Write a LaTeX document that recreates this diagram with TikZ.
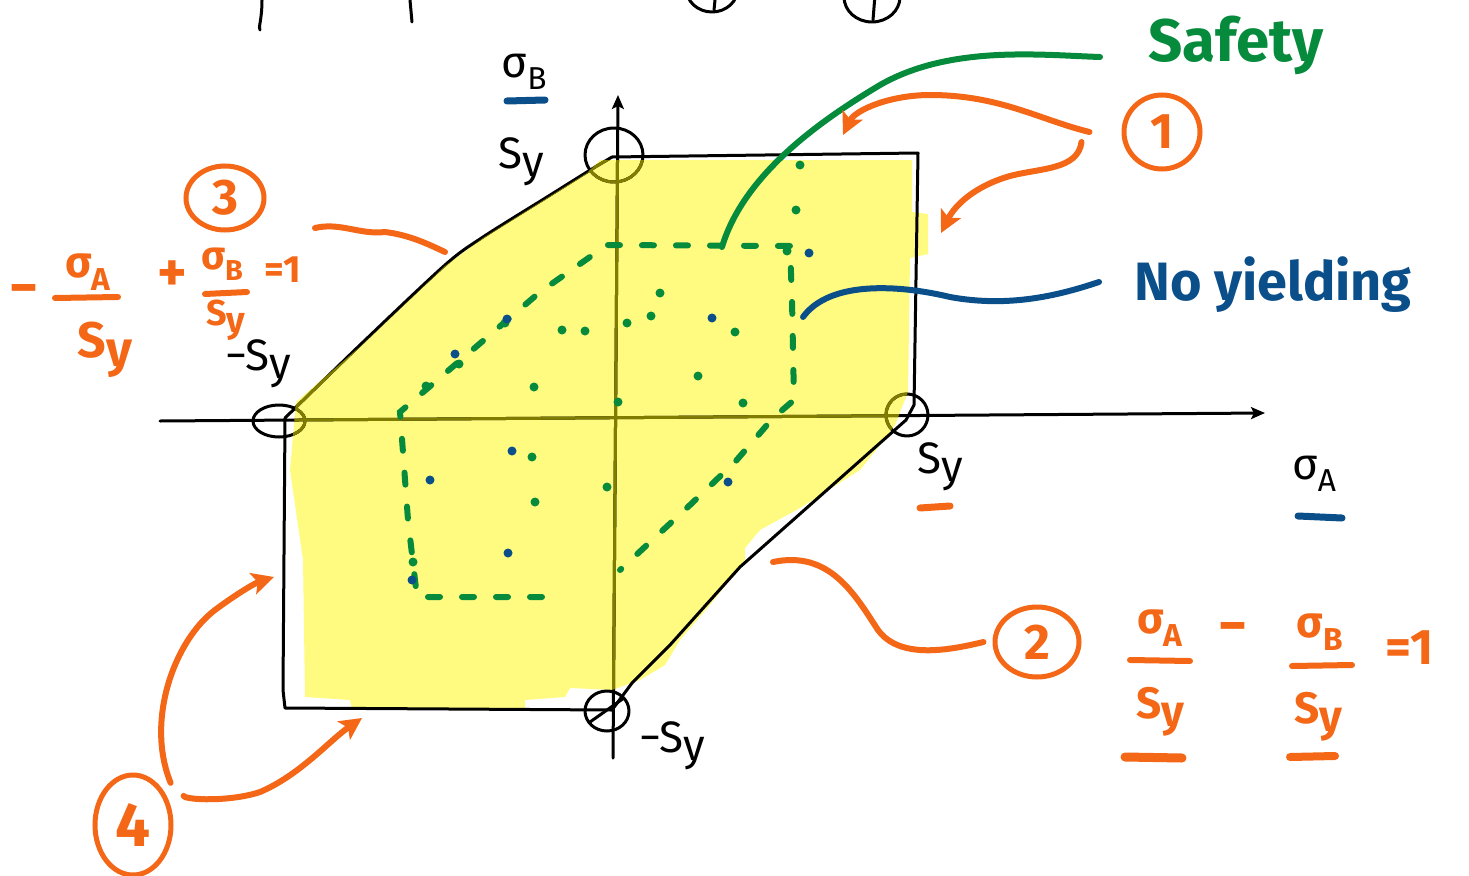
\documentclass[tikz,border=0pt]{standalone}
\usepackage{fontspec}
\setmainfont{Fira Sans}
\usetikzlibrary{arrows.meta,shapes.geometric}
\definecolor{hlyellow}{RGB}{255,251,128}
\definecolor{penorange}{RGB}{243,103,22}
\definecolor{pengreen}{RGB}{6,138,60}
\definecolor{penblue}{RGB}{10,78,138}
\definecolor{olivepen}{RGB}{128,124,0}
\newcommand\sgm[1]{σ\raisebox{-0.28em}{\scalebox{0.72}{#1}}}
\newcommand\syy{S\raisebox{-0.18em}{y}}
\begin{document}
\begin{tikzpicture}[x=1pt,y=-1pt,
 blk/.style={line width=3pt,line cap=round,line join=round},
 olv/.style={line width=3pt,draw=olivepen,line cap=round,line join=round},
 orng/.style={line width=6pt,draw=penorange,line cap=round,line join=round},
 orngarrow/.style={orng,-{Stealth[length=22pt,width=22pt,inset=5pt]}},
 axisarrow/.style={blk,-{Stealth[length=14pt,width=12pt,inset=3pt]}},
 gdash/.style={line width=6pt,draw=pengreen,line cap=round,dash pattern=on 12pt off 22pt},
 gcurve/.style={line width=6pt,draw=pengreen,line cap=round},
 bcurve/.style={line width=6pt,draw=penblue,line cap=round},
 lbl/.style={font=\fontsize{44}{44}\selectfont,inner sep=0pt},
 olbl/.style={font=\fontsize{44}{44}\selectfont\bfseries,inner sep=0pt,text=penorange},
 circ/.style={ellipse,draw=penorange,line width=5pt,text=penorange,font=\fontsize{50}{50}\selectfont\bfseries,inner sep=0pt},
]
\useasboundingbox (0,0) rectangle (1469,875);

% cut-off marks at the very top
\begin{scope}
\clip (0,0) rectangle (1469,875);
\draw[blk] (712,-12) ellipse [x radius=26pt, y radius=24pt];
\draw[blk] (872,-3) ellipse [x radius=28pt, y radius=25pt];
\draw[blk] (716,-10) -- (714,10);
\draw[blk] (875,-5) -- (873,20);
\draw[blk] (262,0) .. controls (262,20) and (258,28) .. (260,30);
\draw[blk] (410,0) -- (412,22);
\end{scope}

% yellow safe region
\fill[hlyellow] (600,160) -- (912,160) -- (912,212) -- (928,214) -- (928,254) -- (910,258)
 -- (908,392) -- (895,425) -- (880,445) -- (860,470) -- (800,508) -- (760,530) -- (745,548)
 -- (745,560) -- (710,605) -- (680,640) -- (665,665) -- (640,680) -- (612,690) -- (570,688)
 -- (565,697) -- (525,700) -- (525,708) -- (352,710) -- (350,700) -- (305,697) -- (303,560)
 -- (290,470) -- (296,402) -- (362,345) -- (445,266) -- (483,238) -- (547,198) -- (587,173) -- cycle;

% hexagon boundary
\draw[blk] plot[smooth] coordinates {(285,418) (360,345) (445,265) (483,237) (547,197) (587,172) (612,157)};
\draw[blk] (612,157) -- (918,153) -- (914,405) -- (906,420) -- (740,567) -- (670,645) -- (632,683) -- (612,710)
 -- (450,709) -- (285,708) -- (283,690) -- (285,418);

% axes
\coordinate (hstart) at (160,421);
\coordinate (hend) at (1265,413);
\coordinate (vstart) at (613,758);
\coordinate (vend) at (618,95);
\draw[axisarrow] (hstart) -- (hend);
\draw[axisarrow] (vstart) -- (vend);
% vertex circles
\draw[blk] (614,155) ellipse [x radius=29pt, y radius=27pt];
\draw[blk] (279,421) ellipse [x radius=26pt, y radius=16pt];
\draw[blk] (907,415) circle (21pt);
\draw[blk] (607,711) ellipse [x radius=22pt, y radius=20pt];
\draw[blk] (590,722) -- (624,698);

% olive where the highlighter covers the black ink
\begin{scope}
\clip (600,160) -- (912,160) -- (912,212) -- (928,214) -- (928,254) -- (910,258)
 -- (908,392) -- (895,425) -- (880,445) -- (860,470) -- (800,508) -- (760,530) -- (745,548)
 -- (745,560) -- (710,605) -- (680,640) -- (665,665) -- (640,680) -- (612,690) -- (570,688)
 -- (565,697) -- (525,700) -- (525,708) -- (352,710) -- (350,700) -- (305,697) -- (303,560)
 -- (290,470) -- (296,402) -- (362,345) -- (445,266) -- (483,238) -- (547,198) -- (587,173) -- cycle;
\draw[olv] (hstart) -- (hend);
\draw[olv] (vstart) -- (vend);
\draw[olv] (614,155) ellipse [x radius=29pt, y radius=27pt];
\draw[olv] (279,421) ellipse [x radius=26pt, y radius=16pt];
\draw[olv] (907,415) circle (21pt);
\draw[olv] plot[smooth] coordinates {(285,418) (360,345) (445,265) (483,237) (547,197) (587,172) (612,157)};
\end{scope}

% green dashed boundary (safety)
\draw[gdash] (542,597) -- (417,597) -- (408,520) -- (400,412) -- (470,352) -- (540,292) -- (607,245)
 -- (790,246) -- (792,300) -- (794,400) -- (773,418) -- (735,462) -- (690,505) -- (620,570);
% inner dots
\foreach \px/\py in {698/376, 743/403, 618/402, 534/387, 426/386, 459/364, 562/330, 585/331, 627/323,
 651/316, 660/293, 735/332, 532/457, 535/502, 607/487, 413/562, 505/323, 787/251, 800/165, 796/210}
 \fill[pengreen] (\px,\py) circle (4.5pt);
\foreach \px/\py in {455/354, 507/319, 512/451, 430/480, 508/553, 412/580, 728/482, 712/318, 809/253}
 \fill[penblue] (\px,\py) circle (4.5pt);

% labels on axes
\node[lbl] (sigB) at (524,72) {\sgm{B}};
\draw[line width=7pt,draw=penblue,line cap=round] (507,101) -- (545,100);
\node[lbl] (sy1) at (521,162) {\syy};
\node[lbl] (sy2) at (258,364) {−\syy};
\node[lbl] (sy3) at (940,467) {\syy};
\draw[line width=7pt,draw=penorange,line cap=round] (920,508) -- (950,506);
\node[lbl] (sigA) at (1314,474) {\sgm{A}};
\draw[line width=7pt,draw=penblue,line cap=round] (1298,516) -- (1342,518);
\node[lbl] (sy4) at (672,746) {−\syy};

% Safety and No yielding
\node[font=\fontsize{60}{60}\selectfont\bfseries,text=pengreen,anchor=west,inner sep=0pt] (safety) at (1148,45) {Safety};
\coordinate (safetyend) at (722,247);
\draw[gcurve] (safety.west) ++(-48,12) .. controls (1040,55) and (950,45) .. (880,85)
 .. controls (830,115) and (745,170) .. (safetyend);
\node[font=\fontsize{54}{54}\selectfont\bfseries,text=penblue,anchor=west,inner sep=0pt] (noyield) at (1134,285) {No yielding};
\coordinate (noyieldend) at (803,317);
\draw[bcurve] (noyield.west) ++(-35,-3) .. controls (1060,295) and (1010,308) .. (950,297)
 .. controls (900,285) and (830,280) .. (noyieldend);

% circled numbers
\node[circ,minimum width=76pt,minimum height=74pt] (c1) at (1162,132) {1};
\node[circ,minimum width=84pt,minimum height=70pt] (c2) at (1037,642) {2};
\node[circ,minimum width=78pt,minimum height=64pt] (c3) at (225,198) {3};
\node[circ,minimum width=76pt,minimum height=100pt,font=\fontsize{62}{62}\selectfont\bfseries] (c4) at (133,825) {4};

% orange pointers
\coordinate (topedge) at (843,135);
\coordinate (rightedge) at (941,233);
\draw[orngarrow] (c1.west) ++(-32,0) .. controls (1040,120) and (1000,95) .. (930,95)
 .. controls (890,95) and (855,110) .. (topedge);
\draw[orngarrow] (c1.west) ++(-40,10) .. controls (1078,170) and (1040,168) .. (1010,176)
 .. controls (975,186) and (955,205) .. (rightedge);
\coordinate (diagUL) at (445,252);
\draw[orng] (315,228) .. controls (340,222) and (360,235) .. (385,232) .. controls (410,235) and (430,245) .. (diagUL);
\coordinate (diagLR) at (773,562);
\draw[orng] (c2.west) ++(-9,0) .. controls (950,650) and (900,660) .. (878,630)
 .. controls (855,595) and (830,550) .. (diagLR);
\coordinate (leftedge) at (274,577);
\coordinate (bottomedge) at (362,718);
\draw[orngarrow] (c4.north east) ++(9,-5) .. controls (145,720) and (175,640) .. (215,610)
 .. controls (235,595) and (255,583) .. (leftedge);
\draw[orngarrow] (c4.north east) ++(22,8) .. controls (185,800) and (230,802) .. (260,792)
 .. controls (300,775) and (330,740) .. (bottomedge);

% equation 3 (left)
\node[olbl,font=\fontsize{56}{56}\selectfont\bfseries] (eqLm) at (24,295) {−};
\node[olbl] (eqLa) at (88,272) {\sgm{A}};
\draw[orng] (55,298) -- (118,297);
\node[olbl,font=\fontsize{50}{50}\selectfont\bfseries] (eqLs) at (105,350) {\syy};
\node[olbl,font=\fontsize{56}{56}\selectfont\bfseries] (eqLp) at (172,276) {+};
\node[olbl,font=\fontsize{40}{40}\selectfont\bfseries] (eqLb) at (222,264) {\sgm{B}};
\draw[orng] (205,294) -- (247,292);
\node[olbl,font=\fontsize{36}{36}\selectfont\bfseries] (eqLs2) at (226,320) {\syy};
\node[olbl,font=\fontsize{38}{38}\selectfont\bfseries] (eqLe) at (283,270) {=1};

% equation 2 (right)
\node[olbl] (eqRa) at (1160,628) {\sgm{A}};
\draw[orng] (1130,660) -- (1190,661);
\node[olbl] (eqRs) at (1160,712) {\syy};
\draw[line width=9pt,draw=penorange,line cap=round] (1125,757) -- (1182,758);
\node[olbl,font=\fontsize{56}{56}\selectfont\bfseries] (eqRm) at (1233,633) {−};
\node[olbl] (eqRb) at (1320,632) {\sgm{B}};
\draw[orng] (1292,666) -- (1352,665);
\node[olbl] (eqRs2) at (1318,717) {\syy};
\draw[line width=8pt,draw=penorange,line cap=round] (1290,757) -- (1335,756);
\node[olbl,font=\fontsize{50}{50}\selectfont\bfseries] (eqRe) at (1410,648) {=1};
\end{tikzpicture}
\end{document}
